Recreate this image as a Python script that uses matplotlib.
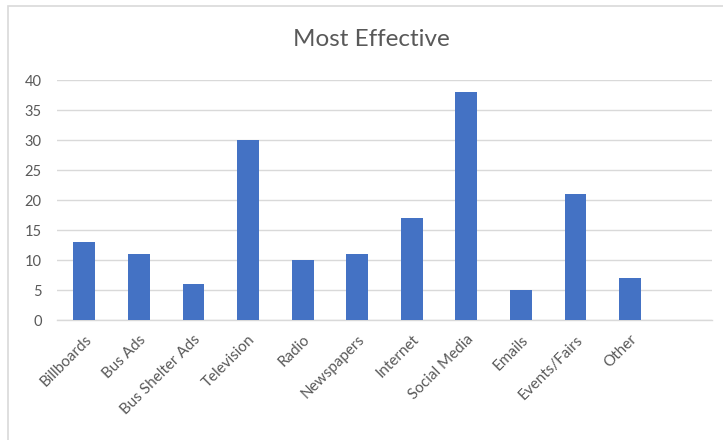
import matplotlib.pyplot as plt
from matplotlib.patches import Rectangle

categories = ['Billboards', 'Bus Ads', 'Bus Shelter Ads', 'Television', 'Radio',
              'Newspapers', 'Internet', 'Social Media', 'Emails', 'Events/Fairs', 'Other']
values = [13, 11, 6, 30, 10, 11, 17, 38, 5, 21, 7]
yticks = [0, 5, 10, 15, 20, 25, 30, 35, 40]

plt.rcParams['font.family'] = ['Lato', 'DejaVu Sans']

fig = plt.figure(figsize=(7.23, 4.40), dpi=100)
ax = fig.add_axes([57 / 723, 1 - 320 / 440, (712 - 57) / 723, 240 / 440])

x = list(range(len(categories)))
ax.bar(x, values, width=0.4, color='#4472C4', zorder=3)

ax.set_xlim(-0.5, len(categories) + 0.5)
ax.set_ylim(0, 40)
ax.set_yticks(yticks)
ax.set_xticks(x)
ax.set_xticklabels(categories, rotation=45, ha='right', rotation_mode='anchor',
                   fontsize=11, color='#595959')
ax.tick_params(axis='y', labelsize=10.5, labelcolor='#595959', length=0, pad=11)
ax.tick_params(axis='x', length=0, pad=9)
ax.grid(axis='y', color='#D9D9D9', linewidth=1, zorder=0)
for s in ['top', 'right', 'left']:
    ax.spines[s].set_visible(False)
ax.spines['bottom'].set_color('#D9D9D9')
ax.spines['bottom'].set_linewidth(1)

fig.text(371 / 723, 1 - 40 / 440, 'Most Effective', fontsize=17.5, color='#595959',
         ha='center', va='center')

# chart border
fig.patches.append(Rectangle((8 / 723, -0.1), 1.1, 1 - 6 / 440 + 0.1, transform=fig.transFigure,
                             fill=False, edgecolor='#D9D9D9', linewidth=1.2))

fig.savefig('out.png', dpi=100)
